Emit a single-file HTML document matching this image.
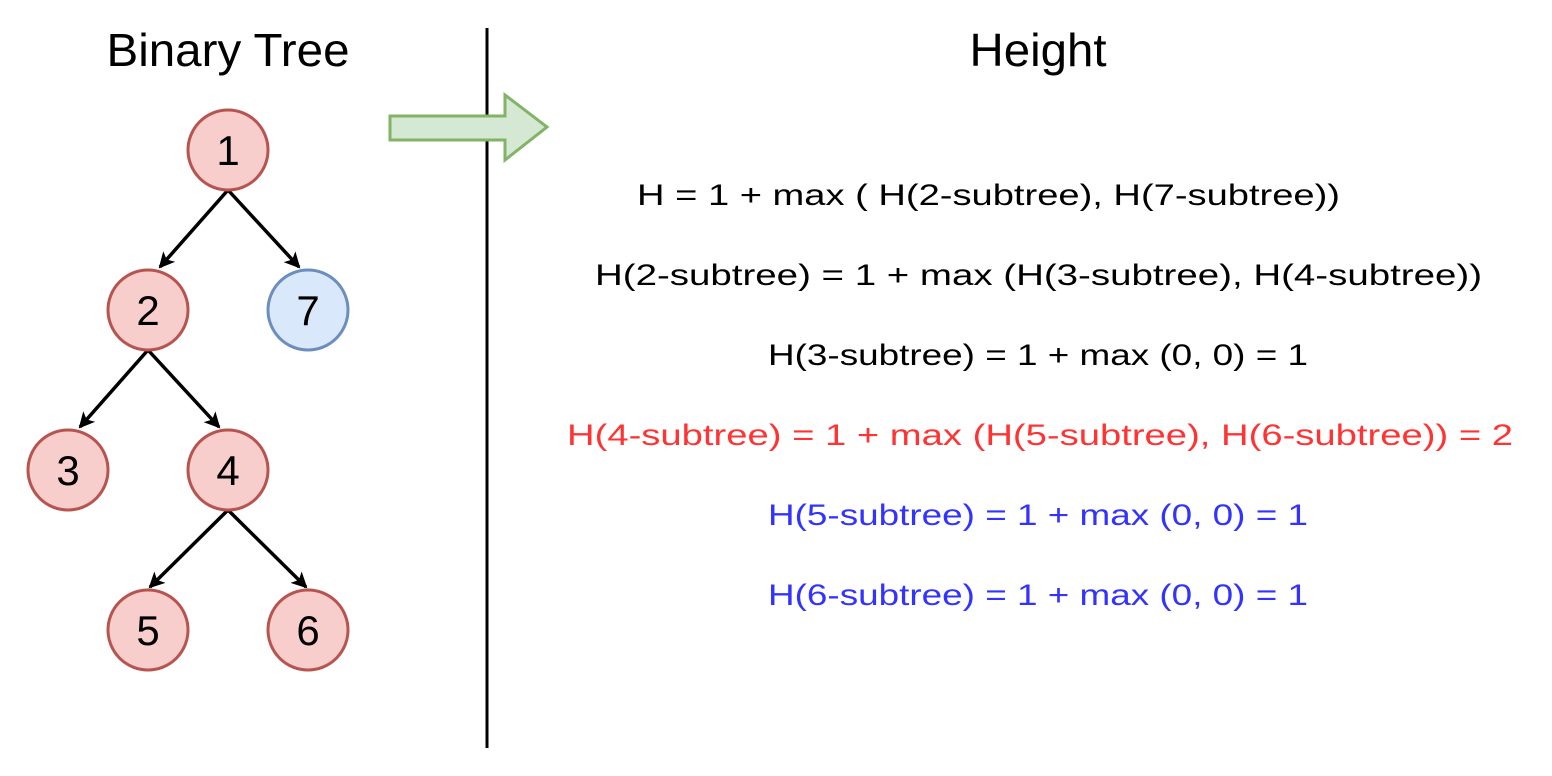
<!DOCTYPE html>
<html><head><meta charset="utf-8"><style>
html,body{margin:0;padding:0;background:#fff}
svg{display:block}
text{font-family:"Liberation Sans",sans-serif}
</style></head><body>
<svg width="1552" height="776" viewBox="0 0 1552 776">
<defs><marker id="ah" markerWidth="16" markerHeight="16" refX="14" refY="8" orient="auto" markerUnits="userSpaceOnUse"><path d="M0,0 L16,8 L0,16 L4,8 Z" fill="#000"/></marker></defs>
<text x="228" y="66" font-size="46" text-anchor="middle" textLength="243" lengthAdjust="spacingAndGlyphs">Binary Tree</text>
<text x="1038" y="66" font-size="46" text-anchor="middle" textLength="137" lengthAdjust="spacingAndGlyphs">Height</text>
<line x1="487" y1="28" x2="487" y2="748" stroke="#000" stroke-width="3"/>
<path d="M390,116 L505,116 L505,95 L547,127 L505,160 L505,140 L390,140 Z" fill="#d5e8d4" stroke="#82b366" stroke-width="3"/>
<g stroke="#000" stroke-width="3.5" fill="none">
<line x1="228" y1="190" x2="160" y2="267" marker-end="url(#ah)"/>
<line x1="228" y1="190" x2="299" y2="267" marker-end="url(#ah)"/>
<line x1="148" y1="350" x2="80" y2="427" marker-end="url(#ah)"/>
<line x1="148" y1="350" x2="219" y2="427" marker-end="url(#ah)"/>
<line x1="228" y1="510" x2="150" y2="587" marker-end="url(#ah)"/>
<line x1="228" y1="510" x2="306" y2="587" marker-end="url(#ah)"/>
</g>
<g stroke-width="3" font-size="42">
<g><circle cx="228" cy="150" r="40" fill="#f8cecc" stroke="#b85450"/><text x="228" y="165" text-anchor="middle">1</text></g>
<g><circle cx="148" cy="310" r="40" fill="#f8cecc" stroke="#b85450"/><text x="148" y="325" text-anchor="middle">2</text></g>
<g><circle cx="308" cy="310" r="40" fill="#dae8fc" stroke="#6c8ebf"/><text x="308" y="325" text-anchor="middle">7</text></g>
<g><circle cx="68" cy="470" r="40" fill="#f8cecc" stroke="#b85450"/><text x="68" y="485" text-anchor="middle">3</text></g>
<g><circle cx="228" cy="470" r="40" fill="#f8cecc" stroke="#b85450"/><text x="228" y="485" text-anchor="middle">4</text></g>
<g><circle cx="148" cy="630" r="40" fill="#f8cecc" stroke="#b85450"/><text x="148" y="645" text-anchor="middle">5</text></g>
<g><circle cx="308" cy="630" r="40" fill="#f8cecc" stroke="#b85450"/><text x="308" y="645" text-anchor="middle">6</text></g>
</g>
<g font-size="30">
<text x="637" y="205" textLength="703" lengthAdjust="spacingAndGlyphs">H = 1 + max ( H(2-subtree), H(7-subtree))</text>
<text x="595" y="285" textLength="887" lengthAdjust="spacingAndGlyphs">H(2-subtree) = 1 + max (H(3-subtree), H(4-subtree))</text>
<text x="768" y="365" textLength="540" lengthAdjust="spacingAndGlyphs">H(3-subtree) = 1 + max (0, 0) = 1</text>
<text x="567" y="445" textLength="946" lengthAdjust="spacingAndGlyphs" fill="#ff3333">H(4-subtree) = 1 + max (H(5-subtree), H(6-subtree)) = 2</text>
<text x="768" y="525" textLength="540" lengthAdjust="spacingAndGlyphs" fill="#3333ff">H(5-subtree) = 1 + max (0, 0) = 1</text>
<text x="768" y="605" textLength="540" lengthAdjust="spacingAndGlyphs" fill="#3333ff">H(6-subtree) = 1 + max (0, 0) = 1</text>
</g>
</svg>
</body></html>
